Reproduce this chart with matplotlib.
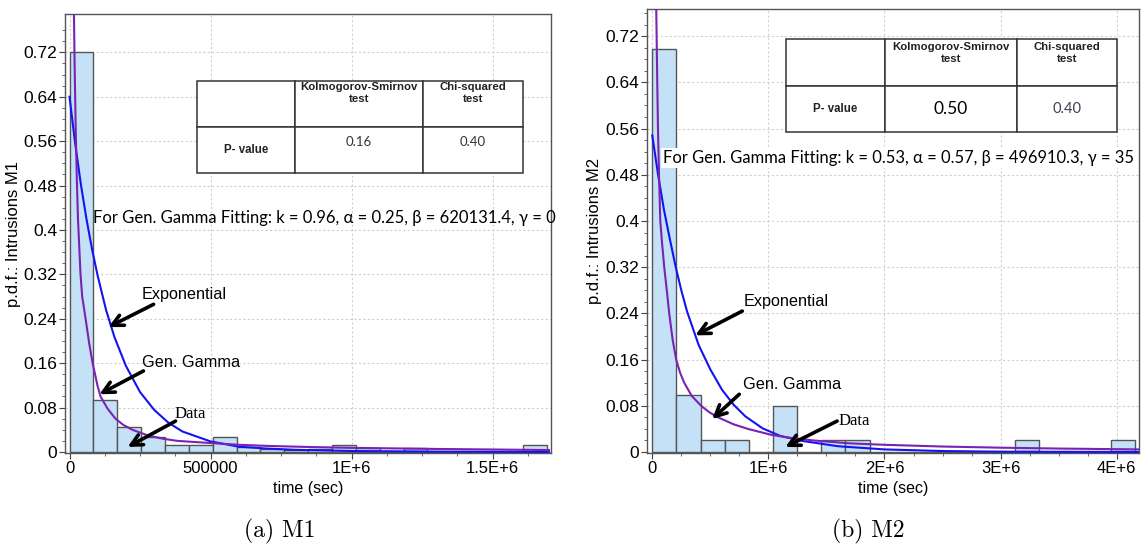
import numpy as np
import matplotlib
matplotlib.use("Agg")
import matplotlib.pyplot as plt
from matplotlib.patches import Rectangle

plt.rcParams['font.family'] = ['Liberation Sans', 'DejaVu Sans']

# === DATOS M1 ===
m1_bin_width = 84600
m1_heights = [0.72, 0.093, 0.045, 0.0275, 0.013, 0.013, 0.0275, 0.009, 0.005, 0.004,
              0.005, 0.013, 0.007, 0.0, 0.008, 0.0, 0.0, 0.0, 0.0, 0.013]
m1_exp_x = [0, 20000, 40000, 60000, 80000, 100000, 130000, 160000, 200000, 250000,
            300000, 350000, 400000, 500000, 600000, 700000, 800000, 1000000, 1300000, 1700000]
m1_exp_y = [0.64, 0.556, 0.483, 0.42, 0.365, 0.317, 0.255, 0.206, 0.155, 0.108,
            0.076, 0.053, 0.037, 0.019, 0.0096, 0.0062, 0.004, 0.0018, 0.0007, 0.0002]
m1_gg_x = [9000, 12000, 15000, 18000, 22000, 26000, 30000, 39000, 45000, 57000, 70000,
           82000, 99000, 110000, 135000, 163000, 190000, 223000, 277000, 330000, 383000,
           489000, 600000, 700000, 850000, 1000000, 1300000, 1700000]
m1_gg_y = [1.3, 1.0, 0.82, 0.70, 0.58, 0.49, 0.42, 0.32, 0.28, 0.24, 0.195,
           0.16, 0.12, 0.10, 0.078, 0.06, 0.049, 0.04, 0.03, 0.024, 0.02,
           0.0165, 0.013, 0.011, 0.009, 0.0075, 0.0055, 0.0035]
m1_xticks = [0, 500000, 1000000, 1500000]
m1_xlabels = ["0", "500000", "1E+6", "1.5E+6"]
m1_pvalues = ["0.16", "0.40"]
m1_fit = "For Gen. Gamma Fitting: k = 0.96, \u03b1 = 0.25, \u03b2 = 620131.4, \u03b3 = 0"

# === DATOS M2 ===
m2_bin_width = 208000
m2_heights = [0.697, 0.098, 0.0207, 0.0207, 0.0, 0.08, 0.0, 0.0207, 0.0207, 0.0,
              0.0, 0.0, 0.0, 0.0, 0.0, 0.0207, 0.0, 0.0, 0.0, 0.0207]
m2_exp_x = [0, 50000, 100000, 150000, 200000, 250000, 300000, 400000, 500000, 600000,
            700000, 800000, 950000, 1100000, 1300000, 1600000, 2000000, 2500000, 3000000, 4200000]
m2_exp_y = [0.548, 0.48, 0.42, 0.37, 0.322, 0.28, 0.243, 0.185, 0.143, 0.108,
            0.082, 0.062, 0.041, 0.028, 0.019, 0.010, 0.0045, 0.0017, 0.0006, 0.0001]
m2_gg_x = [25000, 34000, 43000, 49000, 58000, 69000, 85000, 103000, 125000, 146000,
           175000, 206000, 240000, 275000, 340000, 421000, 490000, 567000, 700000, 824000,
           1020000, 1170000, 1390000, 1700000, 2000000, 2500000, 3000000, 3500000, 4200000]
m2_gg_y = [1.0, 0.77, 0.64, 0.56, 0.48, 0.40, 0.36, 0.32, 0.28, 0.24,
           0.195, 0.16, 0.137, 0.12, 0.097, 0.08, 0.069, 0.06, 0.048, 0.04,
           0.03, 0.025, 0.02, 0.015, 0.0125, 0.0095, 0.0075, 0.006, 0.0045]
m2_xticks = [0, 1000000, 2000000, 3000000, 4000000]
m2_xlabels = ["0", "1E+6", "2E+6", "3E+6", "4E+6"]
m2_pvalues = ["0.50", "0.40"]
m2_fit = "For Gen. Gamma Fitting: k = 0.53, \u03b1 = 0.57, \u03b2 = 496910.3, \u03b3 = 35"

yticks = [0, 0.08, 0.16, 0.24, 0.32, 0.4, 0.48, 0.56, 0.64, 0.72]
ylabels = ["0", "0.08", "0.16", "0.24", "0.32", "0.4", "0.48", "0.56", "0.64", "0.72"]

BAR_FILL = "#c5e1f8"
BAR_EDGE = "#555555"
BLUE = "#1414f0"
PURPLE = "#7a22b4"
GRID = "#d6d0c2"
CALIBRI = ['Lato', 'DejaVu Sans']


def p_table(ax, left, bottom, widths, heights, head_dy, val_y, pvals, val_styles):
    # tabla de p-values dibujada a mano en coordenadas de ejes
    top = bottom + heights[0] + heights[1]
    xs = [left, left + widths[0], left + widths[0] + widths[1]]
    for r, h in enumerate(heights):
        yb = top - sum(heights[:r + 1])
        for c in range(3):
            ax.add_patch(Rectangle((xs[c], yb), widths[c], h, transform=ax.transAxes,
                                   facecolor="white", edgecolor="#333333", lw=1.1,
                                   zorder=6, clip_on=False))
    heads = ["Kolmogorov-Smirnov\ntest", "Chi-squared\ntest"]
    for c in (1, 2):
        ax.text(xs[c] + widths[c] / 2, top - head_dy, heads[c - 1], transform=ax.transAxes,
                ha="center", va="top", fontsize=8.2, fontweight="bold", linespacing=1.15,
                color="#222222", zorder=7)
    ax.text(xs[0] + widths[0] / 2, bottom + heights[1] / 2, "P- value", transform=ax.transAxes,
            ha="center", va="center", fontsize=8.3, fontweight="bold", color="#222222", zorder=7)
    for c in (1, 2):
        size, col = val_styles[c - 1]
        ax.text(xs[c] + widths[c] / 2, val_y, pvals[c - 1], transform=ax.transAxes,
                ha="center", va="center", fontsize=size, color=col, family=CALIBRI, zorder=7)


def panel(ax, bin_w, heights, exp_x, exp_y, gg_x, gg_y, xticks, xlabels, minor_step,
          xlim, ylim, ylab):
    lefts = [i * bin_w for i in range(len(heights))]
    ax.bar(lefts, heights, width=bin_w, align="edge", color=BAR_FILL,
           edgecolor=BAR_EDGE, linewidth=1.0, zorder=2)
    ax.plot(exp_x, exp_y, color=BLUE, lw=1.5, zorder=3)
    ax.plot(gg_x, gg_y, color=PURPLE, lw=1.5, zorder=3)
    ax.set_xlim(*xlim)
    ax.set_ylim(*ylim)
    ax.set_xticks(xticks)
    ax.set_xticklabels(xlabels)
    ax.set_xticks(np.arange(0, xlim[1], minor_step), minor=True)
    ax.set_yticks(yticks)
    ax.set_yticklabels(ylabels)
    ax.set_yticks(np.arange(0, 0.78, 0.02), minor=True)
    ax.tick_params(which="major", direction="out", length=4, width=0.8, pad=1.5,
                   labelsize=12, color="#444444")
    ax.tick_params(axis="y", which="major", labelsize=12.5)
    ax.tick_params(which="minor", direction="out", length=2.5, width=0.7, color="#666666")
    ax.grid(True, which="major", color=GRID, linestyle=(0, (2, 2)), lw=0.8)
    ax.set_axisbelow(True)
    for s in ax.spines.values():
        s.set_color("#555555")
        s.set_linewidth(1.0)
    ax.set_xlabel("time (sec)", fontsize=11.5, labelpad=4)
    ax.set_ylabel(ylab, fontsize=12, labelpad=2)


def arrow(ax, tail, head, label, text_xy, serif=False):
    ax.annotate("", xy=head, xytext=tail,
                arrowprops=dict(arrowstyle="->", lw=2.6, color="black",
                                mutation_scale=20, shrinkA=0, shrinkB=0), zorder=5)
    if serif:
        ax.text(*text_xy, label, ha="center", va="center", fontsize=12,
                family=["Liberation Serif"], zorder=5)
    else:
        ax.text(*text_xy, label, ha="center", va="center", fontsize=11.7, zorder=5)


fig = plt.figure(figsize=(11.44, 5.51), dpi=100)
ax1 = fig.add_axes([0.05682, 0.17786, 0.42483, 0.79673])
ax2 = fig.add_axes([0.5653, 0.17786, 0.43034, 0.80581])

# === PANEL M1 ===
panel(ax1, m1_bin_width, m1_heights, m1_exp_x, m1_exp_y, m1_gg_x, m1_gg_y,
      m1_xticks, m1_xlabels, 125000, (-16000, 1707000), (-0.0018, 0.789),
      "p.d.f.: Intrusions M1")
p_table(ax1, 0.2716, 0.6378, [0.2016, 0.2634, 0.2058], [0.1048, 0.1048], 0.0034, 0.709,
        m1_pvalues, [(9.5, "#333333"), (9.5, "#333333")])
ax1.text(0.0576, 0.535, m1_fit, transform=ax1.transAxes, fontsize=12, family=CALIBRI,
         va="center", ha="left", zorder=5)
arrow(ax1, (298000, 0.266), (138000, 0.225), "Exponential", (406000, 0.284))
arrow(ax1, (262000, 0.146), (106000, 0.104), "Gen. Gamma", (430000, 0.162))
arrow(ax1, (376000, 0.0557), (206000, 0.009), "Data", (429000, 0.068), serif=True)

# === PANEL M2 ===
panel(ax2, m2_bin_width, m2_heights, m2_exp_x, m2_exp_y, m2_gg_x, m2_gg_y,
      m2_xticks, m2_xlabels, 250000, (-48000, 4192000), (-0.0017, 0.767),
      "p.d.f.: Intrusions M2")
p_table(ax2, 0.2825, 0.7230, [0.2012, 0.2683, 0.2033], [0.1059, 0.1036], 0.0079, 0.7748,
        m2_pvalues, [(12.5, "black"), (10.5, "#404050")])
ax2.text(0.0325, 0.664, m2_fit, transform=ax2.transAxes, fontsize=11.9, family=CALIBRI,
         va="center", ha="left", zorder=5,
         bbox=dict(facecolor="white", edgecolor="none", pad=1.5))
arrow(ax2, (775000, 0.244), (370000, 0.202), "Exponential", (1157000, 0.261))
arrow(ax2, (749000, 0.100), (516000, 0.057), "Gen. Gamma", (1200000, 0.1175))
arrow(ax2, (1592000, 0.0536), (1145000, 0.0086), "Data", (1738000, 0.0536), serif=True)

# === CAPTIONS ===
fig.text(280 / 1144, 1 - 531 / 551, "(a) M1", family="cmr10", fontsize=17,
         ha="center", va="center")
fig.text(868 / 1144, 1 - 531 / 551, "(b) M2", family="cmr10", fontsize=17,
         ha="center", va="center")

fig.savefig("out.png", dpi=100)
